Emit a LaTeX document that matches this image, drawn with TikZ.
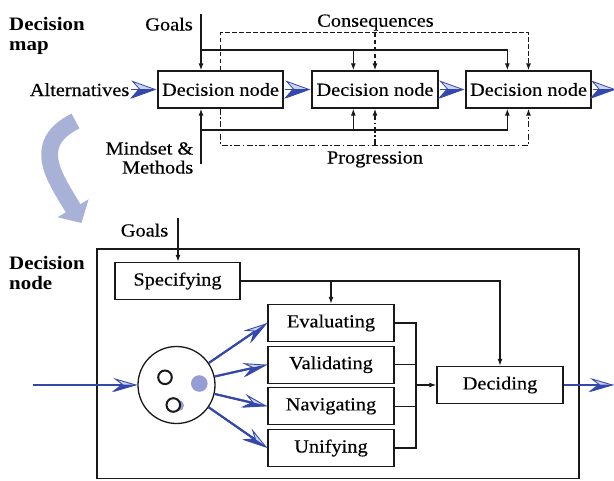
\documentclass[tikz,border=0pt]{standalone}
\usepackage{fontspec}
\setmainfont[FakeStretch=1.1,UprightFeatures={FakeBold=0.35}]{Liberation Serif}
\usetikzlibrary{arrows.meta,calc}

\definecolor{flowblue}{RGB}{52,72,172}
\definecolor{tipfill}{RGB}{205,212,240}
\definecolor{dotblue}{RGB}{148,158,212}
\definecolor{bendblue}{RGB}{168,178,214}
\definecolor{ink}{RGB}{25,25,25}

\tikzset{
  stepbox/.style={draw=ink, line width=1.3pt, minimum height=37pt, inner sep=0pt, fill=white},
  link/.style={draw=ink, line width=1.25pt},
  tip/.style={-{Latex[length=7pt,width=5pt]}},
  conseq/.style={link, dash pattern=on 4.5pt off 2.5pt},
  progress/.style={link, dash pattern=on 6pt off 2.5pt on 1.5pt off 2.5pt},
  % two-tone chevron: light upper half, dark lower half
  chevron/.style={draw=flowblue, line width=0.6pt, shorten <=1pt, shorten >=1pt,
    -{Stealth[length=25pt,width=18pt,inset=8pt,fill=tipfill,line width=0.8pt]},
    postaction={draw=flowblue, line width=0.6pt,
      -{Stealth[harpoon,swap,length=25pt,width=18pt,inset=8pt,fill=flowblue,line width=0.8pt]}}},
  flow/.style={draw=flowblue, line width=2pt,
    -{Stealth[length=24pt,width=14pt,inset=9pt,fill=tipfill,line width=0.9pt]},
    postaction={draw=flowblue, line width=2pt,
      -{Stealth[harpoon,swap,length=24pt,width=14pt,inset=9pt,fill=flowblue,line width=0.9pt]}}},
  label/.style={inner sep=0pt},
  heading/.style={inner sep=0pt, font=\fontsize{19}{20}\selectfont\bfseries,
    align=left, anchor=north west},
}

\begin{document}
\begin{tikzpicture}[x=1pt,y=-1pt,font=\fontsize{18.5}{19}\selectfont]
\useasboundingbox (0,0) rectangle (614,480);

% ---------- decision map ----------
\node[heading] (maptitle) at (9,17.2) {Decision\\map};

\node[stepbox, minimum width=125pt] (b1) at (220.5,89.5) {Decision node};
\node[stepbox, minimum width=126pt] (b2) at (375,89.5) {Decision node};
\node[stepbox, minimum width=125pt] (b3) at (528.5,89.5) {Decision node};

\node[label, anchor=base east] (goalsA) at (193,30.5) {Goals};
\node[label, anchor=base east] (alt) at (129.5,96) {Alternatives};
\node[label, anchor=north east, align=right] (mind) at (193.5,141.5) {Mindset \&\\Methods};
\node[label, anchor=base] (cons) at (375.5,26.7) {Consequences};
\node[label, anchor=base] (prog) at (375,163.5) {Progression};

% goals feed every node from above
\coordinate (g0) at (201,14);
\coordinate (gbus) at (201,50);
\draw[link,tip] (g0) -- (g0 |- b1.north);
\draw[link,tip] (gbus) -| ($(b3.north west)+(42,0)$);
\draw[link,tip] ($(b2.north west)+(42,-20.5)$) -- ($(b2.north west)+(42,0)$);

% mindset and methods feed every node from below
\coordinate (m0) at (201,164);
\coordinate (mbus) at (201,130);
\draw[link,tip] (m0) -- (m0 |- b1.south);
\draw[link,tip] (mbus) -| ($(b3.south west)+(42,0)$);
\draw[link,tip] ($(b2.south west)+(42,22)$) -- ($(b2.south west)+(42,0)$);

% consequences (dashed) and progression (dash-dot)
\draw[conseq,tip] (b1.north) -- ++(0,-37.5) -| (b3.north);
\draw[conseq,tip] ($(b2.north)+(0,-37.5)$) -- (b2.north);
\draw[progress,tip] (b1.south) -- ++(0,36.5) -| (b3.south);
\draw[progress,tip] ($(b2.south)+(0,36.5)$) -- (b2.south);

% alternatives flow through the chain
\coordinate (mapout) at (617,89.5);
\draw[chevron] (b1.west -| alt.east) -- (b1.west);
\draw[chevron] (b1.east) -- (b2.west);
\draw[chevron] (b2.east) -- (b3.west);
\draw[chevron] (b3.east) -- (mapout);

% zoom-in arrow
\coordinate (bendstart) at (75.5,121);
\coordinate (bendend) at (81.5,223);
\draw[bendblue, line width=16.8pt, -{Triangle[length=17pt,width=35pt]}]
  (bendstart) .. controls (28.5,144.5) and (56.5,179.5) .. (bendend);

% ---------- decision node ----------
\node[draw=ink, line width=1.2pt, minimum width=482pt, minimum height=229.5pt,
      inner sep=0pt] (frame) at (338,363.75) {};
\node[heading] (nodetitle) at (9,256.5) {Decision\\node};

\node[stepbox, minimum width=125pt] (spec) at (177.5,281) {Specifying};
\node[stepbox, minimum width=126pt] (eval) at (331,323) {Evaluating};
\node[stepbox, minimum width=126pt] (vali) at (331,364.7) {Validating};
\node[stepbox, minimum width=126pt] (navi) at (331,406.3) {Navigating};
\node[stepbox, minimum width=126pt] (unif) at (331,448) {Unifying};
\node[stepbox, minimum width=126pt] (dec) at (500,385) {Deciding};

\node[label, anchor=base east] (goalsB) at (168.5,236.5) {Goals};
\coordinate (gB) at (178,218);
\draw[link,tip] (gB) -- (gB |- spec.north);

\draw[link,tip] (spec.east) -| (dec.north);
\draw[link,tip] (spec.east -| eval.north) -- (eval.north);

\coordinate (bus) at (416,385);
\draw[link] (eval.east) -- (eval.east -| bus) -- (unif.east -| bus) -- (unif.east);
\draw[link] (vali.east) -- (vali.east -| bus);
\draw[link] (navi.east) -- (navi.east -| bus);
\draw[link,tip] (bus) -- (dec.west);

% the pool of alternatives
\node[circle, draw=ink, line width=1.3pt, minimum size=77pt, inner sep=0pt,
      fill=white] (hub) at (176.5,385) {};
\fill[dotblue] (178.5,405.5) circle (5.5);
\draw[ink, line width=2pt, fill=white] (165,377.3) circle (6.8);
\draw[ink, line width=2pt, fill=white] (173.3,405) circle (6.8);
\fill[dotblue] (199.3,383.5) circle (8.3);

\coordinate (inflow) at (33,385);
\coordinate (outflow) at (614,385);
\draw[flow] (inflow) -- (hub);
\foreach \s in {eval,vali,navi,unif}
  \draw[flow] (hub) -- (\s.west);
\draw[flow] (dec.east) -- (outflow);

\end{tikzpicture}
\end{document}
